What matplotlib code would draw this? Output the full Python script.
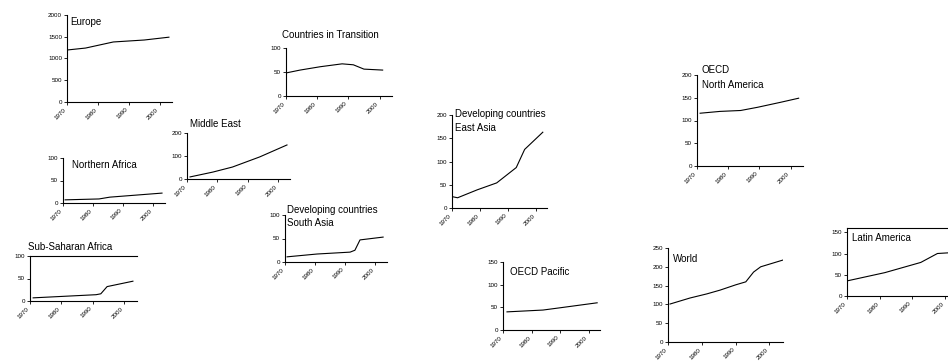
import matplotlib
matplotlib.use("Agg")
import matplotlib.pyplot as plt

W, H = 948, 362
plt.rcParams['font.family'] = ['Liberation Sans', 'DejaVu Sans']

xticks = [1970, 1980, 1990, 2000]

# values, per region
europe_years = [1970, 1976, 1985, 1995, 2003]
europe_vals = [1195, 1240, 1380, 1425, 1490]

cit_years = [1970, 1974.5, 1981, 1988, 1991.6, 1995, 2001]
cit_vals = [48, 54, 61, 67, 65, 56, 54]

mideast_years = [1971, 1978.5, 1985, 1994, 2003]
mideast_vals = [9, 30, 52, 96, 148]

nafrica_years = [1970.7, 1982, 1985.6, 2003]
nafrica_vals = [7, 9, 13, 22]

ssafrica_years = [1971, 1991, 1992.5, 1994.5, 2002.7]
ssafrica_vals = [7, 14, 16, 32, 44]

sasia_years = [1970.7, 1980.7, 1991.7, 1993.3, 1995, 2002.7]
sasia_vals = [11, 17, 21, 25, 47, 53]

easia_years = [1970.4, 1972, 1979, 1986, 1993, 1996, 2002.5]
easia_vals = [24, 22, 39, 54, 87, 126, 163]

namerica_years = [1971, 1977.4, 1984, 1989.4, 1996.8, 2002.6]
namerica_vals = [116, 120, 122, 129, 140, 149]

pacific_years = [1971.4, 1984, 1990, 2003]
pacific_vals = [40, 44, 49, 60]

world_years = [1970.6, 1976.5, 1981.5, 1985.4, 1990, 1993, 1995.3, 1997.4, 2004]
world_vals = [101, 117, 128, 138, 152, 160, 186, 200, 218]

latam_years = [1970.3, 1981.6, 1992.6, 1997.7, 2002]
latam_vals = [36, 55, 79, 100, 102]

fig = plt.figure(figsize=(W / 100, H / 100), dpi=100)


def panel(left, top, right, bottom, years, vals, yticks, ymax, top_spine=False):
    ax = fig.add_axes([left / W, 1 - bottom / H, (right - left) / W, (bottom - top) / H])
    ax.plot(years, vals, color='black', lw=0.8)
    ax.set_xlim(1970, 2004)
    ax.set_ylim(0, ymax)
    ax.set_xticks(xticks)
    ax.set_yticks(yticks)
    ax.tick_params(labelsize=4.5, length=2, width=0.6, pad=1.5)
    for lab in ax.get_xticklabels():
        lab.set_rotation(45)
        lab.set_ha('right')
    ax.spines['right'].set_visible(False)
    ax.spines['top'].set_visible(top_spine)
    for s in ax.spines.values():
        s.set_linewidth(0.8)
    ax.patch.set_alpha(0)
    return ax


def title(x, y, s):
    fig.text(x / W, 1 - y / H, s, fontsize=7, va='center', ha='left')


panel(67, 15, 172, 102, europe_years, europe_vals, [0, 500, 1000, 1500, 2000], 2000)
title(70, 22, 'Europe')

panel(286, 48, 392, 96, cit_years, cit_vals, [0, 50, 100], 100)
title(282, 35, 'Countries in Transition')

panel(187, 133, 290, 179, mideast_years, mideast_vals, [0, 100, 200], 200)
title(190, 124, 'Middle East')

panel(63, 158, 165, 203, nafrica_years, nafrica_vals, [0, 50, 100], 100)
title(72, 165, 'Northern Africa')

panel(30, 256, 137, 301, ssafrica_years, ssafrica_vals, [0, 50, 100], 100, top_spine=True)
title(28, 247, 'Sub-Saharan Africa')

panel(285, 215, 387, 262, sasia_years, sasia_vals, [0, 50, 100], 100)
title(287, 210, 'Developing countries')
title(287, 223, 'South Asia')

panel(452, 115, 547, 208, easia_years, easia_vals, [0, 50, 100, 150, 200], 200)
title(455, 114, 'Developing countries')
title(455, 128, 'East Asia')

panel(697, 75, 803, 166, namerica_years, namerica_vals, [0, 50, 100, 150, 200], 200)
title(702, 70, 'OECD')
title(702, 85, 'North America')

panel(503, 262, 600, 330, pacific_years, pacific_vals, [0, 50, 100, 150], 150)
title(510, 272, 'OECD Pacific')

panel(668, 248, 783, 342, world_years, world_vals, [0, 50, 100, 150, 200, 250], 250)
title(673, 259, 'World')

panel(847, 228, 958, 296, latam_years, latam_vals, [0, 50, 100, 150], 160, top_spine=True)
title(852, 238, 'Latin America')

fig.savefig('out.png', dpi=100)
